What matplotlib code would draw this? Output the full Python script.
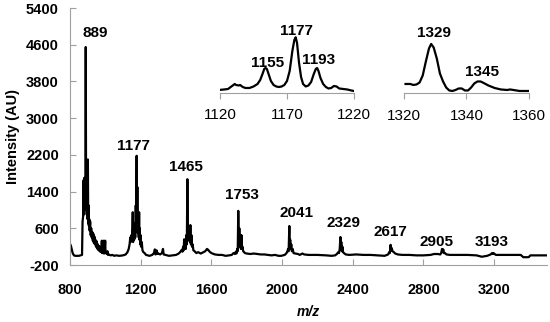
import numpy as np
from matplotlib import pyplot as plt

plt.rcParams['font.family'] = ['Liberation Sans', 'DejaVu Sans']
plt.rcParams['axes.unicode_minus'] = False

# main spectrum (m/z, intensity AU)
mz_main = [800, 805, 810, 815, 822, 830, 850, 868, 871, 874, 877, 879, 881, 883, 885, 887,
           889, 891, 893, 895, 897, 899, 901, 903, 905, 907, 909, 911, 914, 917, 920, 923,
           926, 929, 932, 935, 938, 941, 944, 947, 950, 953, 956, 959, 962, 965, 968, 971,
           974, 977, 980, 982, 985, 988, 991, 993, 996, 999, 1001, 1004, 1008, 1012, 1015,
           1020, 1030, 1040, 1050, 1060, 1080, 1100, 1115, 1125, 1132, 1137, 1141, 1144,
           1147, 1150, 1153, 1155, 1157, 1160, 1163, 1166, 1169, 1172, 1174, 1177, 1179,
           1181, 1183, 1186, 1189, 1191, 1193, 1195, 1197, 1199, 1202, 1206, 1210, 1215,
           1222, 1230, 1240, 1250, 1265, 1275, 1280, 1284, 1290, 1295, 1300, 1310, 1320,
           1326, 1330, 1340, 1360, 1380, 1400, 1415, 1425, 1432, 1436, 1440, 1443, 1446,
           1449, 1452, 1455, 1458, 1461, 1464, 1467, 1470, 1473, 1476, 1478, 1481, 1484,
           1487, 1490, 1494, 1498, 1505, 1515, 1525, 1540, 1555, 1565, 1575, 1582, 1590,
           1600, 1620, 1640, 1660, 1680, 1700, 1715, 1725, 1733, 1738, 1742, 1746, 1749,
           1752, 1755, 1758, 1761, 1764, 1767, 1770, 1773, 1776, 1780, 1790, 1800, 1820,
           1840, 1860, 1880, 1900, 1920, 1940, 1960, 1980, 1995, 2005, 2015, 2025, 2030,
           2034, 2037, 2041, 2043, 2046, 2049, 2052, 2055, 2060, 2065, 2075, 2090, 2100,
           2115, 2125, 2150, 2200, 2250, 2280, 2300, 2310, 2318, 2322, 2326, 2330, 2332,
           2335, 2338, 2341, 2345, 2350, 2360, 2380, 2420, 2460, 2500, 2540, 2580, 2600,
           2606, 2610, 2614, 2617, 2620, 2625, 2632, 2640, 2655, 2680, 2720, 2760, 2800,
           2840, 2860, 2880, 2895, 2900, 2905, 2908, 2912, 2916, 2922, 2930, 2950, 3000,
           3050, 3100, 3130, 3160, 3180, 3188, 3193, 3197, 3202, 3210, 3250, 3300, 3350,
           3365, 3395, 3405, 3450, 3505]
int_main = [260, 220, 140, 60, 10, 0, 0, 20, 750, 850, 1650, 900, 1700, 1100, 1500, 1000,
            4550, 1200, 1600, 900, 1300, 800, 2100, 700, 1100, 650, 800, 550, 750, 450, 600, 400,
            520, 330, 480, 280, 420, 250, 350, 200, 320, 160, 260, 130, 220, 110, 200, 90,
            150, 80, 330, 60, 120, 60, 330, 50, 100, 330, 60, 80, 40, 100, 20,
            30, 10, 20, 0, 10, 0, 10, 30, 80, 150, 250, 400, 300,
            450, 350, 600, 950, 300, 500, 350, 700, 400, 1100, 600, 2180, 700,
            1500, 500, 650, 400, 950, 350, 600, 250, 450, 200, 300, 120, 80,
            60, 20, 10, 0, 20, 60, 140, 30, 120, 40, 50, 30, 60,
            150, 30, 20, 0, 10, 20, 50, 90, 130, 90, 200, 120, 360,
            150, 250, 150, 450, 250, 1670, 400, 600, 350, 650, 300, 670, 250,
            450, 200, 250, 120, 100, 60, 80, 50, 80, 100, 150, 130, 90,
            60, 30, 20, 20, 0, 10, 20, 60, 40, 90, 50, 150, 100,
            980, 250, 600, 200, 450, 150, 450, 150, 200, 100, 60, 50, 40,
            50, 40, 30, 30, 20, 10, 20, 0, 0, 10, 20, 60, 100,
            150, 100, 650, 200, 350, 150, 250, 100, 150, 60, 50, 40, 20,
            50, 30, 20, 20, 10, 0, 10, 40, 80, 60, 150, 410, 150,
            300, 100, 200, 80, 60, 30, 20, 30, 20, 20, 10, 0, 30,
            80, 60, 240, 120, 170, 100, 80, 50, 30, 20, 20, 10, 10,
            20, 40, 40, 30, 60, 150, 80, 140, 60, 60, 30, 20, 20,
            20, 10, -20, 0, 30, 60, 40, 60, 40, 20, 20, 20, 20,
            -30, -30, 10, 10, 10]

peak_labels = ['889', '1177', '1465', '1753', '2041', '2329', '2617', '2905', '3193']
label_x = [944, 1159, 1456, 1770, 2079, 2347, 2610, 2874, 3188]
label_y = [4856, 2404, 1936, 1336, 933, 726, 519, 301, 312]

# inset 1: 1120-1220
mz_in1 = [1119, 1123, 1126, 1129, 1131, 1132, 1134, 1135, 1137, 1139, 1142, 1145, 1148,
          1150, 1152, 1153, 1154, 1155, 1156.5, 1158, 1160, 1162, 1164, 1166, 1168, 1170,
          1172, 1174, 1175.5, 1176.5, 1177.5, 1179, 1180.5, 1182, 1184, 1186, 1188, 1190,
          1191.5, 1192.5, 1193.5, 1195, 1197, 1199, 1201, 1203, 1205, 1207, 1209, 1212,
          1215, 1218, 1220]
int_in1 = [3, 3.5, 4, 7, 9, 8, 7.5, 8, 6, 5, 5, 6.5, 9,
           13, 20, 24, 25, 24, 18, 12, 8, 6.5, 6, 6.5, 8, 12,
           22, 42, 53, 55.7, 50, 30, 16, 9, 6.5, 7.5, 11, 19,
           24, 25, 22, 15, 9, 6, 4.5, 5, 7, 6.5, 4.5, 4,
           3.5, 2.5, 2]
in1_labels = ['1155', '1177', '1193']
in1_lx = [1155.4, 1177.1, 1193.6]
in1_ly = [30.3, 62, 32.7]

# inset 2: 1320-1360
mz_in2 = [1320.5, 1322, 1323, 1324, 1325, 1326, 1327, 1328, 1328.7, 1329.5, 1330.5, 1331.5,
          1332.5, 1333.5, 1334.5, 1335.5, 1336.5, 1337.5, 1338.5, 1339.5, 1340.5, 1341.5,
          1342.5, 1343.5, 1344.5, 1345.5, 1347, 1349, 1351, 1353, 1354, 1355, 1357, 1360]
int_in2 = [9.5, 9.5, 8.5, 9, 11, 18, 32, 45, 49.5, 46, 35, 20,
           12, 6, 3, 2.5, 3.5, 5, 5, 3, 3, 6,
           10, 12, 12, 10.5, 8, 5.5, 4, 3.5, 4, 3.5, 2.5, 2.5]
in2_labels = ['1329', '1345']
in2_lx = [1329.6, 1345.1]
in2_ly = [60.5, 21.8]

grey = '#a0a0a0'
fig = plt.figure(figsize=(5.5, 3.22), dpi=100)

ax = fig.add_axes([0.1273, 0.177, 0.8676, 0.798])
ax.plot(mz_main, int_main, color='black', linewidth=1.6)
ax.set_xlim(800, 3500)
ax.set_ylim(-200, 5400)
ax.set_xticks([800, 1200, 1600, 2000, 2400, 2800, 3200])
ax.set_yticks(np.arange(-200, 5401, 800))
for s in ['top', 'right']:
    ax.spines[s].set_visible(False)
for s in ['left', 'bottom']:
    ax.spines[s].set_color(grey)
ax.tick_params(axis='both', direction='in', length=4, color=grey, labelsize=10.5)
ax.tick_params(axis='x', pad=13)
ax.tick_params(axis='y', pad=8)
for lab in ax.get_xticklabels() + ax.get_yticklabels():
    lab.set_fontweight('bold')
ax.set_ylabel('Intensity (AU)', fontsize=10.5, fontweight='bold', labelpad=4)
ax.set_xlabel('m/z', fontsize=10, fontweight='bold', style='italic', labelpad=6)
for t, x, y in zip(peak_labels, label_x, label_y):
    ax.text(x, y, t, ha='center', va='center', fontsize=11, fontweight='bold')

# insets
for rect, mz, inten, xl, ticks, labs, lx, ly in [
        ([0.4, 0.7112, 0.2436, 0.1957], mz_in1, int_in1, (1120, 1220), [1120, 1170, 1220],
         in1_labels, in1_lx, in1_ly),
        ([0.7345, 0.7097, 0.2273, 0.1957], mz_in2, int_in2, (1320, 1360), [1320, 1340, 1360],
         in2_labels, in2_lx, in2_ly)]:
    ia = fig.add_axes(rect)
    ia.patch.set_alpha(0)
    ia.plot(mz, inten, color='black', linewidth=1.6)
    ia.set_xlim(*xl)
    ia.set_ylim(0, 63)
    ia.set_xticks(ticks)
    ia.set_yticks([])
    for s in ['top', 'right', 'left']:
        ia.spines[s].set_visible(False)
    ia.spines['bottom'].set_color(grey)
    ia.tick_params(axis='x', direction='out', length=4, color=grey, labelsize=11, pad=7)
    for t, x, y in zip(labs, lx, ly):
        ia.text(x, y, t, ha='center', va='center', fontsize=11, fontweight='bold')

fig.savefig('out.png', dpi=100)
